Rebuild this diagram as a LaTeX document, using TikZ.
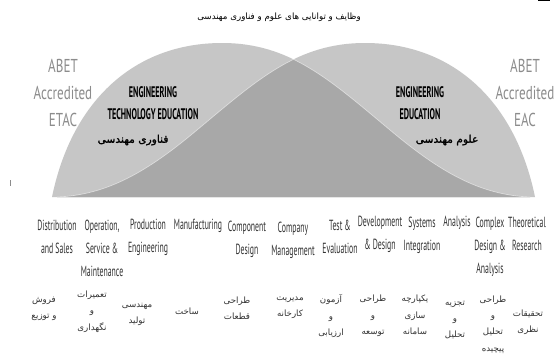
\documentclass[tikz,border=0pt]{standalone}
\usepackage{fontspec}
\usepackage{tikz}
\setmainfont{PT Sans}
\newfontfamily\narrowfont[FakeStretch=0.53]{PT Sans}
\newfontfamily\abetfont[FakeStretch=0.7]{PT Sans}
\newfontfamily\fieldfont[FakeStretch=0.53]{PT Sans}
\newfontfamily\farsi[Script=Arabic]{DejaVu Sans}
\newfontfamily\farsibold[Script=Arabic,FakeBold=1.6]{DejaVu Sans}
\TeXXeTstate=1
\newcommand{\fa}[1]{{\beginR #1\endR}}
\definecolor{humplight}{HTML}{C6C6C6}
\definecolor{humpdark}{HTML}{A8A8A8}
\definecolor{abetgray}{HTML}{8C8C8C}
\definecolor{labelink}{HTML}{333333}
% outlines of the two humps, the EAC one is the ETAC one mirrored
\newcommand{\etacedge}{(52,197) .. controls (72,100) and (135,43) .. (222,43)
  .. controls (290,43) and (330,80) .. (390,130)
  .. controls (440,172) and (480,195) .. (530,197)}
\newcommand{\eacedge}{(535,197) .. controls (515,100) and (452,43) .. (365,43)
  .. controls (297,43) and (257,80) .. (197,130)
  .. controls (147,172) and (107,195) .. (57,197)}

\begin{document}
\begin{tikzpicture}[
  x=0.75pt,y=-0.75pt,
  hump/.style={fill=humplight,draw=none},
  overlap/.style={fill=humpdark,draw=none},
  rim/.style={draw=white,line width=0.5pt,opacity=0.55},
  abet/.style={font=\abetfont\fontsize{14}{20}\selectfont,text=abetgray,align=center,inner sep=0pt},
  field/.style={font=\fieldfont\bfseries\fontsize{11.5}{17}\selectfont,align=center,inner sep=0pt},
  fieldfa/.style={font=\farsibold\fontsize{8}{10}\selectfont,inner sep=0pt},
  duty/.style={font=\narrowfont\fontsize{11}{17.3}\selectfont,text=labelink,align=center,anchor=north,inner sep=0pt},
  dutyfa/.style={font=\farsi\fontsize{6.5}{12.2}\selectfont,text=labelink,align=center,inner sep=0pt},
]
\useasboundingbox[fill=white] (0,0) rectangle (555,358);

% humps and their overlap
\fill[hump] \etacedge -- cycle;
\fill[hump] \eacedge -- cycle;
\begin{scope}
  \clip \eacedge -- cycle;
  \fill[overlap] \etacedge -- cycle;
  \draw[rim] \etacedge;
\end{scope}
\begin{scope}
  \clip \etacedge -- cycle;
  \draw[rim] \eacedge;
\end{scope}
\fill[black!45] (9.5,180) rectangle (10.5,186);
\fill[black] (538,0) rectangle (550,1.2);

\node[font=\farsi\fontsize{6.5}{9}\selectfont] (title) at (279,17) {\fa{وظایف و توانایی های علوم و فناوری مهندسی}};

\node[abet] (etac) at (63,93) {ABET\\Accredited\\ETAC};
\node[abet] (eac) at (525,93) {ABET\\Accredited\\EAC};
\node[field] (ete) at (153,103) {ENGINEERING\\TECHNOLOGY EDUCATION};
\node[fieldfa] (etefa) at (133,140) {\fa{فناوری مهندسی}};
\node[field] (ee) at (420,103) {ENGINEERING\\EDUCATION};
\node[fieldfa] (eefa) at (447,140) {\fa{علوم مهندسی}};

% duties along the spectrum
\node[duty] (d1) at (57,220) {Distribution\\and Sales};
\node[duty] (d2) at (102,220) {Operation,\\Service \&\\Maintenance};
\node[duty] (d3) at (148,219) {Production\\Engineering};
\node[duty] (d4) at (198,219) {Manufacturing};
\node[duty] (d5) at (247,221) {Component\\Design};
\node[duty] (d6) at (293,222) {Company\\Management};
\node[duty] (d7) at (340,220) {Test \&\\Evaluation};
\node[duty] (d8) at (380,216) {Development\\\& Design};
\node[duty] (d9) at (422,217) {Systems\\Integration};
\node[duty] (d10) at (457,216) {Analysis};
\node[duty] (d11) at (490,217) {Complex\\Design \&\\Analysis};
\node[duty] (d12) at (527,217) {Theoretical\\Research};

\node[dutyfa] (f1) at (44,309) {\fa{فروش}\\\fa{و توزیع}};
\node[dutyfa] (f2) at (92,311.5) {\fa{تعمیرات}\\\fa{و}\\\fa{نگهداری}};
\node[dutyfa] (f3) at (137,314.5) {\fa{مهندسی}\\\fa{تولید}};
\node[dutyfa] (f4) at (187,311) {\fa{ساخت}};
\node[dutyfa] (f5) at (237,308.5) {\fa{طراحی}\\\fa{قطعات}};
\node[dutyfa] (f6) at (290,307.5) {\fa{مدیریت}\\\fa{کارخانه}};
\node[dutyfa] (f7) at (331,316) {\fa{آزمون}\\\fa{و}\\\fa{ارزیابی}};
\node[dutyfa] (f8) at (373,316) {\fa{طراحی}\\\fa{و}\\\fa{توسعه}};
\node[dutyfa] (f9) at (415,315) {\fa{یکپارچه}\\\fa{سازی}\\\fa{سامانه}};
\node[dutyfa] (f10) at (455,320) {\fa{تجزیه}\\\fa{و}\\\fa{تحلیل}};
\node[dutyfa] (f11) at (493,324.5) {\fa{طراحی}\\\fa{و}\\\fa{تحلیل}\\\fa{پیچیده}};
\node[dutyfa] (f12) at (528,322) {\fa{تحقیقات}\\\fa{نظری}};
\end{tikzpicture}
\end{document}
